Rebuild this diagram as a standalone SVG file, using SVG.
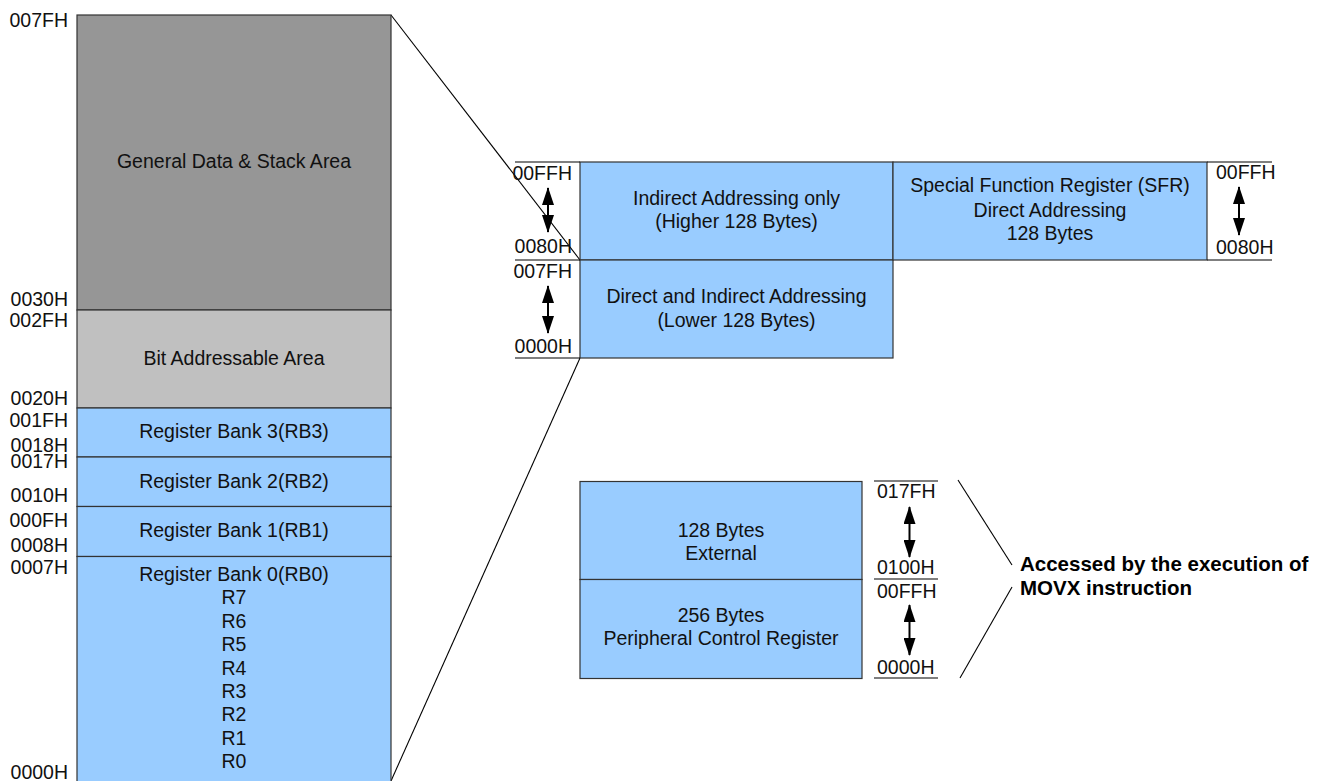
<svg xmlns="http://www.w3.org/2000/svg" width="1320" height="781" viewBox="0 0 1320 781">
<style>
text{font-family:"Liberation Sans",Arial,sans-serif;font-size:19.5px;fill:#111}
.c{text-anchor:middle}
.e{text-anchor:end}
.b{font-weight:bold;font-size:20.5px;fill:#000}
.box{stroke:#333;stroke-width:1.2}
.blue{fill:#99CCFF}
.ln{stroke:#000;stroke-width:1.1;fill:none}
.arr{stroke:#000;stroke-width:2;fill:none;marker-start:url(#ah);marker-end:url(#ah)}
</style>
<defs>
<marker id="ah" markerUnits="userSpaceOnUse" markerWidth="18" markerHeight="12" refX="17" refY="6" viewBox="0 0 18 12" orient="auto-start-reverse">
<path d="M0,0 L18,6 L0,12 Z" fill="#000"/>
</marker>
</defs>

<g id="connectors">
<line class="ln" x1="391" y1="15" x2="580" y2="260"/>
<line class="ln" x1="391" y1="781" x2="580" y2="358"/>
<line class="ln" x1="958" y1="480" x2="1012" y2="565"/>
<line class="ln" x1="1012" y1="587" x2="960" y2="678"/>
</g>

<g id="general-data">
<rect class="box" x="77" y="15" width="314" height="295" fill="#969696"/>
<text class="c" x="234" y="168">General Data &amp; Stack Area</text>
</g>
<g id="bit-addressable">
<rect class="box" x="77" y="310" width="314" height="98" fill="#C0C0C0"/>
<text class="c" x="234" y="365">Bit Addressable Area</text>
</g>
<g id="rb3">
<rect class="box blue" x="77" y="408" width="314" height="49"/>
<text class="c" x="234" y="438">Register Bank 3(RB3)</text>
</g>
<g id="rb2">
<rect class="box blue" x="77" y="457" width="314" height="49.5"/>
<text class="c" x="234" y="488">Register Bank 2(RB2)</text>
</g>
<g id="rb1">
<rect class="box blue" x="77" y="506.5" width="314" height="50"/>
<text class="c" x="234" y="537">Register Bank 1(RB1)</text>
</g>
<g id="rb0">
<rect class="box blue" x="77" y="556.5" width="314" height="226"/>
<text class="c" x="234" y="581">Register Bank 0(RB0)</text>
<text class="c" x="234" y="604.4">R7</text>
<text class="c" x="234" y="627.8">R6</text>
<text class="c" x="234" y="651.2">R5</text>
<text class="c" x="234" y="674.6">R4</text>
<text class="c" x="234" y="698">R3</text>
<text class="c" x="234" y="721.4">R2</text>
<text class="c" x="234" y="744.8">R1</text>
<text class="c" x="234" y="768.2">R0</text>
</g>
<g id="left-addresses">
<text class="e" x="68" y="27">007FH</text>
<text class="e" x="68" y="306">0030H</text>
<text class="e" x="68" y="327">002FH</text>
<text class="e" x="68" y="405">0020H</text>
<text class="e" x="68" y="427">001FH</text>
<text class="e" x="68" y="452">0018H</text>
<text class="e" x="68" y="468">0017H</text>
<text class="e" x="68" y="502">0010H</text>
<text class="e" x="68" y="527">000FH</text>
<text class="e" x="68" y="552">0008H</text>
<text class="e" x="68" y="574">0007H</text>
<text class="e" x="68" y="779">0000H</text>
</g>

<g id="indirect-higher">
<rect class="box blue" x="580" y="162" width="313" height="98"/>
<text class="c" x="736.5" y="205">Indirect Addressing only</text>
<text class="c" x="736.5" y="228">(Higher 128 Bytes)</text>
</g>
<g id="direct-lower">
<rect class="box blue" x="580" y="260" width="313" height="98"/>
<text class="c" x="736.5" y="303">Direct and Indirect Addressing</text>
<text class="c" x="736.5" y="327">(Lower 128 Bytes)</text>
</g>
<g id="sfr">
<rect class="box blue" x="893" y="162" width="314" height="98"/>
<text class="c" x="1050" y="192">Special Function Register (SFR)</text>
<text class="c" x="1050" y="217">Direct Addressing</text>
<text class="c" x="1050" y="240">128 Bytes</text>
</g>
<g id="mid-addresses">
<line class="ln" x1="515" y1="162" x2="580" y2="162"/>
<line class="ln" x1="515" y1="260" x2="580" y2="260"/>
<line class="ln" x1="515" y1="358" x2="580" y2="358"/>
<text class="e" x="572" y="180">00FFH</text>
<text class="e" x="572" y="253">0080H</text>
<text class="e" x="572" y="278">007FH</text>
<text class="e" x="572" y="353">0000H</text>
<line class="arr" x1="548" y1="188" x2="548" y2="232"/>
<line class="arr" x1="548" y1="286" x2="548" y2="333"/>
<line class="ln" x1="1207" y1="162" x2="1272" y2="162"/>
<line class="ln" x1="1207" y1="260" x2="1272" y2="260"/>
<text x="1216" y="179">00FFH</text>
<text x="1216" y="254">0080H</text>
<line class="arr" x1="1239" y1="187" x2="1239" y2="235"/>
</g>

<g id="external">
<rect class="box blue" x="580" y="481.5" width="282" height="98"/>
<text class="c" x="721" y="537">128 Bytes</text>
<text class="c" x="721" y="560">External</text>
</g>
<g id="peripheral">
<rect class="box blue" x="580" y="579.5" width="282" height="99"/>
<text class="c" x="721" y="622">256 Bytes</text>
<text class="c" x="721" y="645">Peripheral Control Register</text>
</g>
<g id="ext-addresses">
<line class="ln" x1="874" y1="481" x2="938" y2="481"/>
<line class="ln" x1="874" y1="579" x2="938" y2="579"/>
<line class="ln" x1="874" y1="678" x2="938" y2="678"/>
<text x="877" y="498">017FH</text>
<text x="877" y="574">0100H</text>
<text x="877" y="598">00FFH</text>
<text x="877" y="674">0000H</text>
<line class="arr" x1="909.5" y1="507" x2="909.5" y2="557"/>
<line class="arr" x1="909.5" y1="605" x2="909.5" y2="655"/>
</g>

<g id="movx-note">
<text class="b" x="1020" y="571">Accessed by the execution of</text>
<text class="b" x="1020" y="595">MOVX instruction</text>
</g>
</svg>
